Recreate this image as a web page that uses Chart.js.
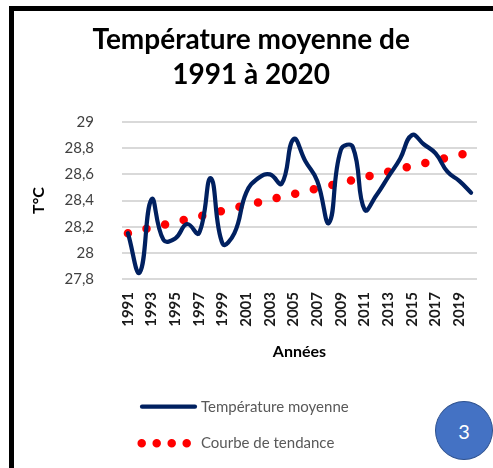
<!DOCTYPE html>
<html lang="fr">
<head>
<meta charset="utf-8">
<title>Température moyenne de 1991 à 2020</title>
<script src="https://cdn.jsdelivr.net/npm/chart.js@4/dist/chart.umd.min.js"></script>
<style>
  html, body { margin: 0; padding: 0; background: #fff; }
  body { width: 493px; height: 468px; position: relative; overflow: hidden; font-family: Lato, "Open Sans", sans-serif; }
  #frame { position: absolute; left: 9px; top: 6px; width: 600px; height: 600px; border-left: 5px solid #000; border-top: 5px solid #000; }
  #wrap { position: absolute; left: 0; top: 0; width: 493px; height: 468px; }
  #badge { position: absolute; left: 435px; top: 401px; width: 56px; height: 57px; border-radius: 50%; background: #4472c4; border: 1.5px solid #2f528f; color: #fff; font: 20px Lato, sans-serif; display: flex; align-items: center; justify-content: center; }
</style>
</head>
<body>
<div id="frame"></div>
<div id="wrap"><canvas id="chart" width="493" height="468"></canvas></div>
<div id="badge">3</div>
<script>
const years = ["1991", "1992", "1993", "1994", "1995", "1996", "1997", "1998", "1999", "2000",
  "2001", "2002", "2003", "2004", "2005", "2006", "2007", "2008", "2009", "2010",
  "2011", "2012", "2013", "2014", "2015", "2016", "2017", "2018", "2019", "2020"];
const temperature = [28.15, 27.85, 28.41, 28.10, 28.11, 28.22, 28.15, 28.57, 28.07, 28.15,
  28.46, 28.57, 28.60, 28.53, 28.87, 28.70, 28.55, 28.23, 28.79, 28.81,
  28.33, 28.44, 28.58, 28.72, 28.90, 28.83, 28.76, 28.62, 28.55, 28.46];
// trend line: only the two ends are read, the line is drawn between them
const trend = [28.15, null, null, null, null, null, null, null, null, null,
  null, null, null, null, null, null, null, null, null, null,
  null, null, null, null, null, null, null, null, null, 28.77];
const yTicks = [27.8, 28, 28.2, 28.4, 28.6, 28.8, 29];
const titleLines = ["Température moyenne de", "1991 à 2020"];
const legendLabels = ["Température moyenne", "Courbe de tendance"];

const fmt = (v) => String(Math.round(v * 10) / 10).replace(".", ",");

// legend stacked under the chart, like the Excel one
const legendPlugin = {
  id: "stackedLegend",
  afterDraw(chart) {
    const { ctx } = chart;
    const rows = [406.7, 443.3];
    chart.data.datasets.forEach((ds, i) => {
      const y = rows[i];
      ctx.save();
      ctx.strokeStyle = ds.borderColor;
      ctx.lineWidth = ds.borderWidth;
      ctx.lineCap = "round";
      ctx.beginPath();
      if (ds.borderDash && ds.borderDash.length) {
        ctx.setLineDash([0, 15]);
        ctx.moveTo(141.7, y);
        ctx.lineTo(187.5, y);
      } else {
        ctx.moveTo(142, y);
        ctx.lineTo(195, y);
      }
      ctx.stroke();
      ctx.setLineDash([]);
      ctx.fillStyle = "#595959";
      ctx.font = "15px Lato, sans-serif";
      ctx.textBaseline = "middle";
      ctx.fillText(legendLabels[i], 201, y);
      ctx.restore();
    });
  }
};

new Chart(document.getElementById("chart"), {
  type: "line",
  data: {
    labels: years,
    datasets: [
      { label: legendLabels[0], data: temperature, borderColor: "#002060", borderWidth: 4.2, tension: 0.45, pointRadius: 0, fill: false, borderCapStyle: "round", borderJoinStyle: "round" },
      { label: legendLabels[1], data: trend, borderColor: "#ff0000", borderWidth: 8.5, borderDash: [0, 19.1], borderCapStyle: "round", tension: 0, pointRadius: 0, spanGaps: true, fill: false }
    ]
  },
  options: {
    responsive: false,
    animation: false,
    layout: { padding: { left: 25.4, right: 16, top: 0, bottom: 102.7 } },
    plugins: {
      legend: { display: false },
      tooltip: { enabled: false },
      title: {
        display: true,
        text: titleLines,
        color: "#000",
        font: { family: "Lato, sans-serif", size: 28, weight: "bold", lineHeight: 1.24 },
        padding: { top: 22.6, bottom: 30 }
      }
    },
    scales: {
      x: {
        offset: true,
        grid: { display: false, drawTicks: false },
        border: { display: false },
        ticks: {
          autoSkip: false, maxRotation: 90, minRotation: 90, padding: 13,
          color: "#1a1a1a", font: { family: "Lato, sans-serif", size: 15, weight: "bold" },
          callback: (v, i) => (i % 2 === 0 ? years[i] : "")
        },
        title: { display: true, text: "Années", color: "#000", font: { family: "Lato, sans-serif", size: 16, weight: "bold" } },
        afterFit: (scale) => { scale.height = 86.3; scale.paddingLeft = 0; scale.paddingRight = 0; }
      },
      y: {
        min: yTicks[0],
        max: yTicks[yTicks.length - 1],
        afterBuildTicks: (scale) => { scale.ticks = yTicks.map((v) => ({ value: v })); },
        grid: { color: "#d9d9d9", lineWidth: 2, drawTicks: false },
        border: { display: false },
        ticks: { padding: 28, color: "#404040", font: { family: "Lato, sans-serif", size: 15 }, callback: (v) => fmt(v) },
        title: { display: true, text: "T°C", color: "#000", font: { family: "Lato, sans-serif", size: 16, weight: "bold" } },
        afterFit: (scale) => { scale.width = 96.6; scale.paddingTop = 0; scale.paddingBottom = 0; }
      }
    }
  },
  plugins: [legendPlugin]
});
</script>
</body>
</html>
